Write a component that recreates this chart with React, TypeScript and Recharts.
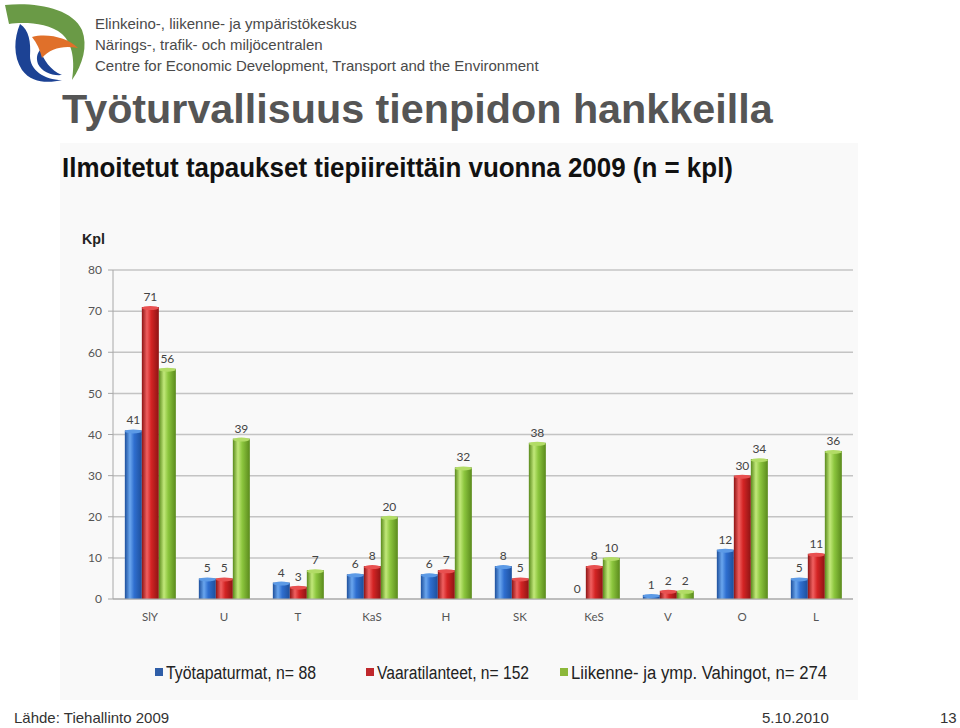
import React from 'react';
import { BarChart, Bar, XAxis, YAxis, CartesianGrid, LabelList } from 'recharts';

const categories = ['SlY', 'U', 'T', 'KaS', 'H', 'SK', 'KeS', 'V', 'O', 'L'];
const tyotapaturmat = [41, 5, 4, 6, 6, 8, 0, 1, 12, 5];
const vaaratilanteet = [71, 5, 3, 8, 7, 5, 8, 2, 30, 11];
const vahingot = [56, 39, 7, 20, 32, 38, 10, 2, 34, 36];
const yTicks = [0, 10, 20, 30, 40, 50, 60, 70, 80];
const seriesNames = ['Työtapaturmat, n= 88', 'Vaaratilanteet, n= 152', 'Liikenne- ja ymp. Vahingot, n= 274'];
const seriesKeys = ['tyo', 'vaara', 'vahinko'];

const data = categories.map((c, i) => ({
  name: c,
  tyo: tyotapaturmat[i],
  vaara: vaaratilanteet[i],
  vahinko: vahingot[i],
}));

const palette = [
  { dark: '#1d4f9c', base: '#2f6fd0', light: '#6aa6ee', cap: '#5c9ae6', legend: '#2f5ea8' },
  { dark: '#8e1414', base: '#d42424', light: '#f06060', cap: '#e85050', legend: '#c0282c' },
  { dark: '#5a8a1c', base: '#8cc63e', light: '#c2e87a', cap: '#b2dc66', legend: '#8cb83a' },
];

const makeShape = (idx: number) => (props: any) => {
  const { x, y, width, height } = props;
  if (!height || height <= 0) return <g />;
  const p = palette[idx];
  return (
    <g>
      <rect x={x} y={y} width={width} height={height} fill={`url(#grad${idx})`} />
      <ellipse cx={x + width / 2} cy={y + 1} rx={width / 2} ry={2} fill={p.cap} />
    </g>
  );
};

const legendX = [155, 366, 560];
const legendW = [150, 152, 256];

function Logo() {
  return (
    <svg width={90} height={88} style={{ position: 'absolute', left: 0, top: 0 }}>
      <path d="M5,5 C35,2 72,8 82,30 C88,46 83,64 72,80 C75,62 73,44 62,34 C48,22 22,22 9,24 Z" fill="#6a9a46" />
      <path d="M20,24 C29,30 31,42 30,56 C30,70 44,80 62,80 C50,83 32,84 22,70 C13,56 14,38 20,24 Z" fill="#1c4294" />
      <path d="M40,50 C44,60 50,70 62,75 C52,76 42,72 38,64 C36,58 37,54 40,50 Z" fill="#1c4294" />
      <path d="M32,37 C48,33 68,38 78,48 C64,45 50,48 42,58 C40,50 37,43 32,37 Z" fill="#e0702a" />
    </svg>
  );
}

export default function App() {
  return (
    <div style={{ position: 'absolute', left: 0, top: 0, width: 960, height: 728, background: '#ffffff', overflow: 'hidden', fontFamily: 'Liberation Sans, Arial, sans-serif' }}>
      <Logo />
      <div style={{ position: 'absolute', left: 95, top: 13, fontSize: 15, lineHeight: '21px', color: '#4a4a4a' }}>
        <div>Elinkeino-, liikenne- ja ympäristökeskus</div>
        <div>Närings-, trafik- och miljöcentralen</div>
        <div>Centre for Economic Development, Transport and the Environment</div>
      </div>
      <div style={{ position: 'absolute', left: 62, top: 85, fontSize: 41.3, fontWeight: 'bold', color: '#555555', whiteSpace: 'nowrap', lineHeight: '48px' }}>
        Työturvallisuus tienpidon hankkeilla
      </div>
      <div style={{ position: 'absolute', left: 60, top: 143, width: 798, height: 557, background: '#f9f9f9' }} />
      <svg width={960} height={728} style={{ position: 'absolute', left: 0, top: 0 }}>
        <text x={62} y={177} fontSize={28} fontWeight="bold" fill="#111" textLength={671} lengthAdjust="spacingAndGlyphs" fontFamily="Liberation Sans Narrow, Liberation Sans, Arial">
          Ilmoitetut tapaukset tiepiireittäin vuonna 2009 (n = kpl)
        </text>
        <text x={82} y={244} fontSize={15} fontWeight="bold" fill="#222" textLength={23} lengthAdjust="spacingAndGlyphs">Kpl</text>
      </svg>
      <div style={{ position: 'absolute', left: 60, top: 143 }}>
        <BarChart width={798} height={557} data={data} margin={{ top: 127, right: 5, left: 0, bottom: 71 }} barCategoryGap="16%" barGap={0}>
          <defs>
            {palette.map((p, i) => (
              <linearGradient key={i} id={`grad${i}`} x1="0" y1="0" x2="1" y2="0">
                <stop offset="0%" stopColor={p.dark} />
                <stop offset="30%" stopColor={p.light} />
                <stop offset="55%" stopColor={p.base} />
                <stop offset="100%" stopColor={p.dark} />
              </linearGradient>
            ))}
          </defs>
          <CartesianGrid vertical={false} stroke="#c4c4c4" strokeWidth={1.5} />
          <XAxis dataKey="name" height={30} axisLine={{ stroke: '#a8a8a8' }} tickLine={{ stroke: 'transparent' }} tickSize={6} tickMargin={8} tick={{ fontSize: 11.5, fill: '#555', fontFamily: 'Lato, Liberation Sans' }} interval={0} />
          <YAxis width={53} domain={[0, 80]} ticks={yTicks} axisLine={{ stroke: '#a8a8a8' }} tickLine={{ stroke: '#a8a8a8' }} tickSize={5} tickMargin={6} tick={{ fontSize: 12, fill: '#555', fontFamily: 'Lato, Liberation Sans' }} />
          {seriesKeys.map((k, i) => (
            <Bar key={k} dataKey={k} name={seriesNames[i]} fill={palette[i].base} shape={makeShape(i)} isAnimationActive={false}>
              <LabelList dataKey={k} position="top" offset={6} fill="#444" fontSize={12} fontFamily="Lato, Liberation Sans" />
            </Bar>
          ))}
        </BarChart>
      </div>
      <svg width={960} height={728} style={{ position: 'absolute', left: 0, top: 0, pointerEvents: 'none' }}>
        {seriesNames.map((n, i) => (
          <g key={n}>
            <rect x={legendX[i]} y={668} width={8} height={8} fill={palette[i].legend} />
            <text x={legendX[i] + 11} y={679} fontSize={18} fill="#222" textLength={legendW[i]} lengthAdjust="spacingAndGlyphs" fontFamily="Liberation Sans Narrow, Liberation Sans, Arial">{n}</text>
          </g>
        ))}
      </svg>
      <div style={{ position: 'absolute', left: 14, top: 709, fontSize: 15, color: '#333', whiteSpace: 'nowrap' }}>Lähde: Tiehallinto 2009</div>
      <div style={{ position: 'absolute', left: 762, top: 709, fontSize: 15, color: '#333' }}>5.10.2010</div>
      <div style={{ position: 'absolute', left: 940, top: 709, fontSize: 15, color: '#333' }}>13</div>
    </div>
  );
}
